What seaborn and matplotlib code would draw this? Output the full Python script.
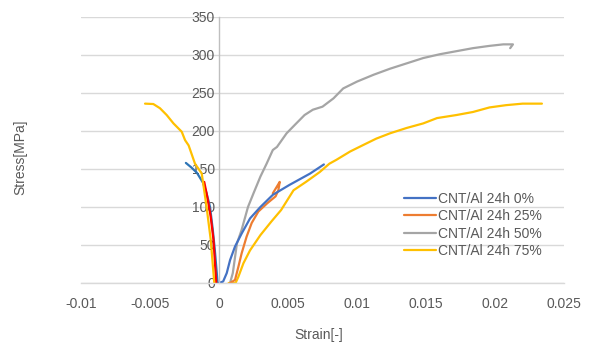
import matplotlib
matplotlib.use("Agg")
import matplotlib.pyplot as plt
import seaborn as sns
import pandas as pd

# ---- data (strain [-], stress [MPa]) ----
blue_left_x = [-0.0024, -0.0020, -0.0016, -0.00116, -0.0009, -0.00065, -0.00045, -0.0003, -0.0001]
blue_left_y = [158, 152, 145, 132, 118, 100, 70, 43, 0]

red_left_x = [-0.00107, -0.0009, -0.00077, -0.0006, -0.0004, -0.0002]
red_left_y = [133, 118, 105, 87, 57, 0]

yellow_left_x = [-0.00536, -0.00476, -0.00428, -0.00379, -0.0033, -0.0027, -0.00246, -0.0022,
                 -0.00174, -0.00125, -0.0009, -0.0006, -0.00034]
yellow_left_y = [236, 235.5, 230, 221, 210, 199, 188, 181, 157, 144, 100, 57, 0]

s0_x = [0.0, 0.0003, 0.00056, 0.0008, 0.00116, 0.00164, 0.00225, 0.003, 0.0039, 0.0051, 0.0066, 0.0076]
s0_y = [0, 2, 13, 30, 48, 65, 85, 100, 116, 129, 144, 156]

s25_x = [0.0008, 0.00116, 0.0014, 0.00164, 0.002, 0.00237, 0.00285, 0.0035, 0.0041, 0.0043, 0.0044, 0.0042, 0.0039]
s25_y = [0, 4, 21, 39, 61, 79, 94, 105, 114, 122, 133, 127, 118]

s50_x = [0.0008, 0.001, 0.0013, 0.00164, 0.0021, 0.0025, 0.003, 0.00345, 0.0039, 0.0042, 0.0049,
         0.0056, 0.0062, 0.0068, 0.0075, 0.0083, 0.009, 0.01, 0.0112, 0.0124, 0.0136, 0.0148,
         0.016, 0.0172, 0.0184, 0.0196, 0.0206, 0.0213, 0.0211]
s50_y = [0, 13, 52, 70, 100, 118, 140, 157, 175, 179, 197, 210, 221, 228, 232, 243, 256, 265,
         274, 282, 289, 296, 301, 305, 309, 312, 314, 314, 309]

s75_x = [0.0007, 0.0012, 0.0014, 0.00177, 0.00225, 0.003, 0.0038, 0.0045, 0.0054, 0.0063, 0.0073,
         0.0080, 0.0085, 0.0095, 0.0105, 0.0114, 0.0124, 0.0136, 0.0148, 0.0158, 0.0172, 0.0184,
         0.0196, 0.0208, 0.022, 0.0234]
s75_y = [0, 0, 8, 26, 43, 63, 81, 96, 122, 133, 146, 157, 162, 173, 182, 190, 197, 204, 210,
         217, 221, 225, 231, 234, 236, 236]

labels = ["CNT/Al 24h 0%", "CNT/Al 24h 25%", "CNT/Al 24h 50%", "CNT/Al 24h 75%"]

x_ticks = [-0.01, -0.005, 0, 0.005, 0.01, 0.015, 0.02, 0.025]
x_tick_labels = ["-0.01", "-0.005", "0", "0.005", "0.01", "0.015", "0.02", "0.025"]
y_ticks = [0, 50, 100, 150, 200, 250, 300, 350]

# ---- plotting ----
sns.set_style("white")
plt.rcParams['font.family'] = ['Liberation Sans', 'DejaVu Sans']

fig = plt.figure(figsize=(5.92, 3.47), dpi=100)
ax = fig.add_axes([81/592, 1 - 283/347, 483/592, 266/347])

lw = 1.6
series = [
    (blue_left_x, blue_left_y, "#2E75B6", "_nolegend_"),
    (red_left_x, red_left_y, "#FF0000", "_nolegend_"),
    (yellow_left_x, yellow_left_y, "#FFC000", "_nolegend_"),
    (s75_x, s75_y, "#FFC000", labels[3]),
    (s50_x, s50_y, "#A5A5A5", labels[2]),
    (s25_x, s25_y, "#ED7D31", labels[1]),
    (s0_x, s0_y, "#4472C4", labels[0]),
]
for xs, ys, c, lab in series:
    df = pd.DataFrame({"x": xs, "y": ys})
    sns.lineplot(data=df, x="x", y="y", sort=False, estimator=None, color=c,
                 linewidth=lw, label=lab, ax=ax, legend=False)

ax.set_xlim(-0.01, 0.025)
ax.set_ylim(0, 350)
ax.set_xticks(x_ticks)
ax.set_xticklabels(x_tick_labels)
ax.set_yticks(y_ticks)
ax.yaxis.grid(True, color="#D9D9D9", linewidth=1)
ax.xaxis.grid(False)
ax.set_axisbelow(True)

for s in ["top", "right"]:
    ax.spines[s].set_visible(False)
ax.spines["left"].set_position(("data", 0))
ax.spines["left"].set_color("#BFBFBF")
ax.spines["left"].set_linewidth(1)
ax.spines["bottom"].set_color("#D9D9D9")
ax.spines["bottom"].set_linewidth(1)

tc = "#595959"
ax.tick_params(axis="y", length=0, pad=3, labelsize=10, labelcolor=tc)
ax.tick_params(axis="x", length=0, pad=10, labelsize=10, labelcolor=tc)

ax.set_xlabel("Strain[-]", fontsize=10, color=tc)
ax.set_ylabel("Stress[MPa]", fontsize=10, color=tc)
ax.xaxis.set_label_coords((319 - 81) / 483, (283 - 328) / 266)
ax.yaxis.set_label_coords((27 - 81) / 483, (283 - 157) / 266)

handles, labs = ax.get_legend_handles_labels()
order = [labs.index(l) for l in labels]
leg = ax.legend([handles[i] for i in order], [labs[i] for i in order],
                loc="center left", bbox_to_anchor=((398 - 81) / 483, (283 - 225) / 266),
                frameon=False, fontsize=10, handlelength=2.3, handletextpad=0.2,
                labelspacing=0.25, borderaxespad=0)
for t in leg.get_texts():
    t.set_color(tc)

fig.savefig("out.png", dpi=100)
